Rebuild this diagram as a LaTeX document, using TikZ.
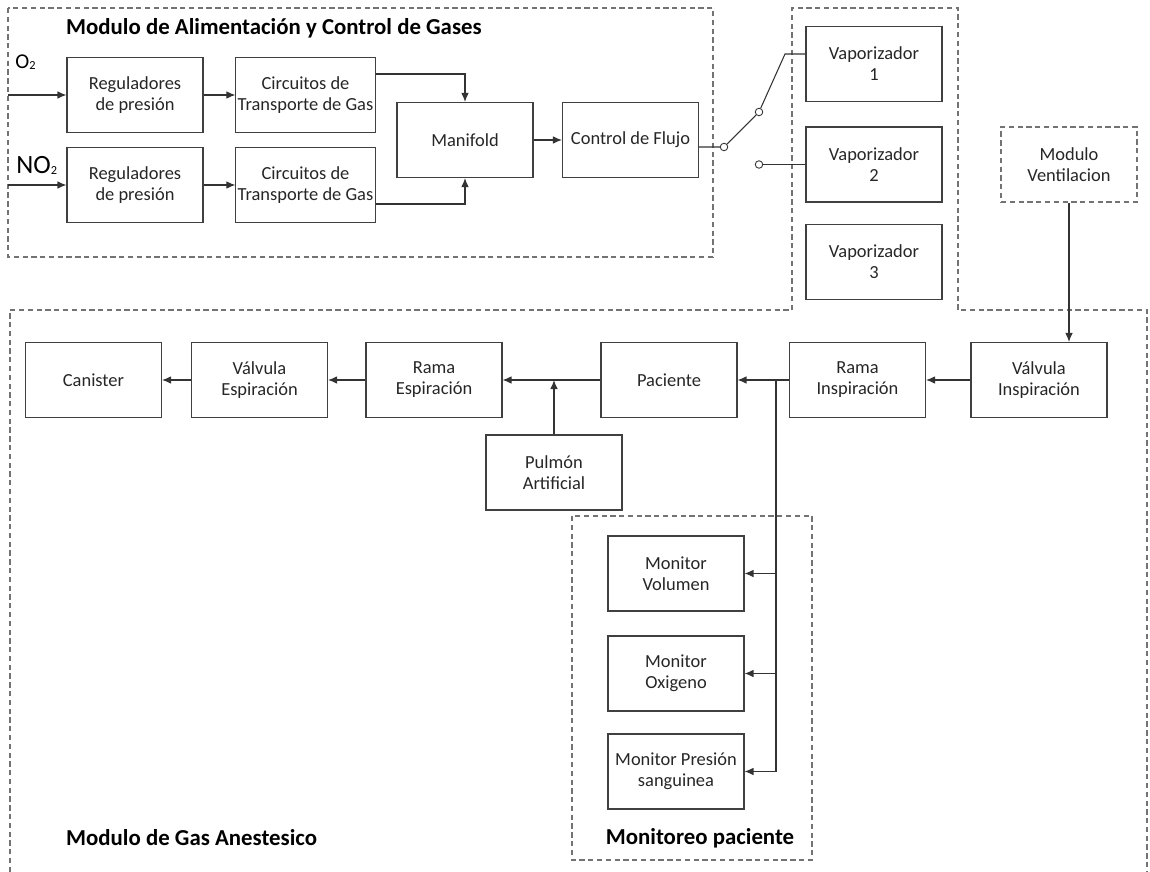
\documentclass[tikz,border=0pt]{standalone}
\usepackage{fontspec}
\setmainfont{Carlito}
\usetikzlibrary{arrows.meta}
\tikzset{
    bloque/.style={draw=black!75, line width=0.6pt, minimum width=2.72cm, minimum height=1.5cm,
        align=center, inner sep=1pt, font=\fontsize{10.5}{12}\selectfont, text=black!85},
    modulo/.style={draw=black!55, line width=0.6pt, dash pattern=on 3pt off 2pt},
    titulo/.style={font=\fontsize{13}{15}\selectfont\bfseries},
    flecha/.style={draw=black!80, line width=0.6pt, -{Latex[length=1.8mm,width=1.5mm]}},
    linea/.style={draw=black!80, line width=0.6pt},
    contacto/.style={circle, draw=black!80, fill=white, line width=0.5pt, inner sep=0pt, minimum size=1.5mm}
}
\newcommand{\subdos}{\raisebox{-0.1ex}{\fontsize{7}{8}\selectfont 2}}
\begin{document}
\begin{tikzpicture}[x=0.02cm,y=-0.02cm]
                \useasboundingbox (0,0) rectangle (1150,872);
                \draw[modulo] (8,8) rectangle (713,257);
                \draw[modulo] (10,872) -- (10,310) -- (792,310) -- (792,8) -- (958,8) -- (958,310) -- (1147,310) -- (1147,872);
                \draw[modulo] (572,516) rectangle (812,860);
                \node[titulo,anchor=west] (tali) at (60,28) {Modulo de Alimentación y Control de Gases};
                \node[titulo,anchor=west] (tgas) at (60,838) {Modulo de Gas Anestesico};
                \node[titulo] (tmon) at (700,838) {Monitoreo paciente};
                \node[anchor=base west,inner sep=0pt,font=\fontsize{12}{13}\selectfont] (lo2) at (15,68) {O\subdos};
                \node[anchor=base west,inner sep=0pt,font=\fontsize{15}{16}\selectfont] (lno2) at (16,173) {NO\subdos};
                \coordinate (in1) at (8,95);
                \coordinate (in2) at (8,185);
                \node[bloque] (reg1) at (135,95) {Reguladores\\de presión};
                \node[bloque] (circ1) at (305.5,95) {Circuitos de\\Transporte de Gas};
                \node[bloque] (reg2) at (135,185) {Reguladores\\de presión};
                \node[bloque] (circ2) at (305.5,185) {Circuitos de\\Transporte de Gas};
                \node[bloque] (mani) at (465,140) {Manifold};
                \node[bloque] (flujo) at (630.5,140) {Control de Flujo};
                \node[bloque] (vap1) at (874,64) {Vaporizador\\1};
                \node[bloque] (vap2) at (874,164.5) {Vaporizador\\2};
                \node[bloque] (vap3) at (874,262) {Vaporizador\\3};
                \node[bloque,modulo] (vent) at (1069,164.5) {Modulo\\Ventilacion};
                \node[contacto] (piv) at (724,147) {};
                \node[contacto] (c1) at (759,112) {};
                \node[contacto] (c2) at (759,164.5) {};
                \coordinate (k1) at (785,54);
                \node[bloque] (valins) at (1039,380) {Válvula\\Inspiración};
                \node[bloque] (ramins) at (857.5,380) {Rama\\Inspiración};
                \node[bloque] (paci) at (669,380) {Paciente};
                \node[bloque] (ramesp) at (434,380) {Rama\\Espiración};
                \node[bloque] (valesp) at (259.5,380) {Válvula\\Espiración};
                \node[bloque] (cani) at (93.5,380) {Canister};
                \node[bloque] (pulmon) at (554,472.5) {Pulmón\\Artificial};
                \node[bloque] (monvol) at (676,573.5) {Monitor\\Volumen};
                \node[bloque] (monoxi) at (676,673.5) {Monitor\\Oxigeno};
                \node[bloque] (monpre) at (676,771.5) {Monitor Presión\\sanguinea};
                \coordinate (j) at (776,380);
                \draw[flecha] (in1) -- (reg1);
                \draw[flecha] (in2) -- (reg2);
                \draw[flecha] (reg1) -- (circ1);
                \draw[flecha] (reg2) -- (circ2);
                \draw[flecha] ([yshift=0.42cm]circ1.east) -| (mani.north);
                \draw[flecha] ([yshift=-0.38cm]circ2.east) -| (mani.south);
                \draw[flecha] (mani) -- (flujo);
                \draw[linea] ([yshift=-0.14cm]flujo.east) -- (piv);
                \draw[linea] (piv) -- (c1);
                \draw[linea] (c1) -- (k1) -- (k1 -| vap1.west);
                \draw[linea] (c2) -- (vap2.west);
                \draw[flecha] (vent.south) -- (vent.south |- valins.north);
                \draw[flecha] (valins) -- (ramins);
                \draw[flecha] (ramins) -- (paci);
                \draw[flecha] (paci) -- (ramesp);
                \draw[flecha] (pulmon.north) -- (pulmon.north |- paci.west);
                \draw[flecha] (ramesp) -- (valesp);
                \draw[flecha] (valesp) -- (cani);
                \draw[linea] (j) -- (j |- monpre);
                \draw[flecha] (j |- monvol) -- (monvol.east);
                \draw[flecha] (j |- monoxi) -- (monoxi.east);
                \draw[flecha] (j |- monpre) -- (monpre.east);
            \end{tikzpicture}
\end{document}
